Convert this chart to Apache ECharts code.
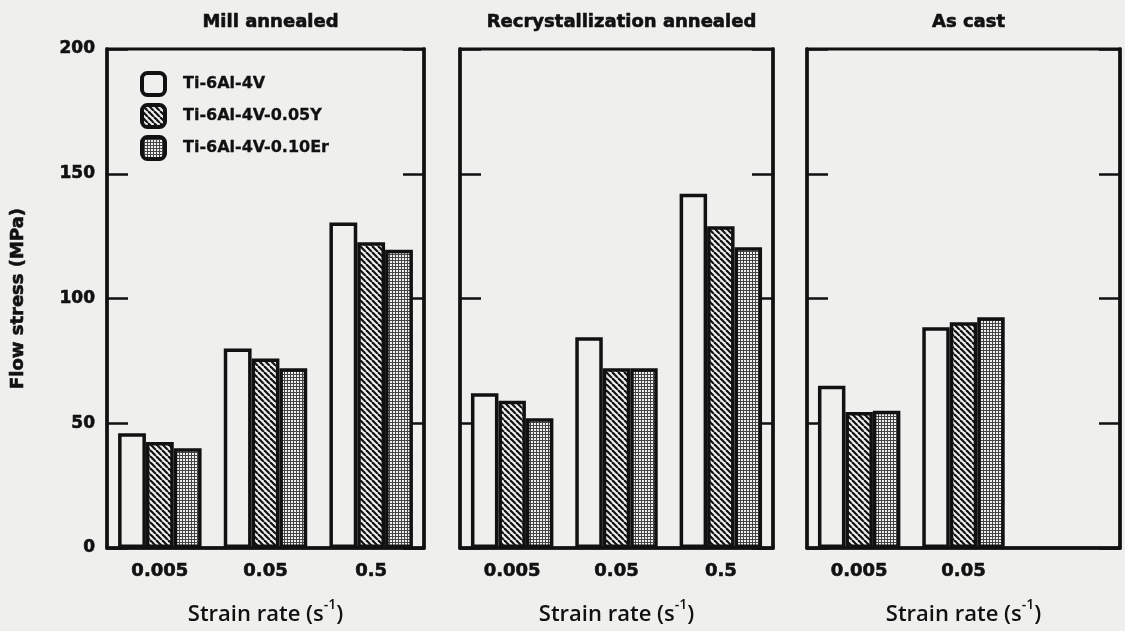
<!DOCTYPE html>
<html>
<head>
<meta charset="utf-8">
<script src="https://cdn.jsdelivr.net/npm/echarts@6/dist/echarts.min.js"></script>
<style>
  html, body { margin: 0; padding: 0; background: #efefed; }
  #grafico { width: 1125px; height: 631px; }
</style>
</head>
<body>
<div id="grafico"></div>
<script>
// Datos (MPa)
const tasas = ['0.005', '0.05', '0.5'];
const tasasColada = ['0.005', '0.05', ''];
const titulos = ['Mill annealed', 'Recrystallization annealed', 'As cast'];
const aleaciones = ['Ti-6Al-4V', 'Ti-6Al-4V-0.05Y', 'Ti-6Al-4V-0.10Er'];
const yTicks = [0, 50, 100, 150, 200];

const millBase = [46, 80, 130.5];
const millY = [42.5, 76, 122.5];
const millEr = [40, 72, 119.5];

const recristBase = [62, 84.5, 142];
const recristY = [59, 72, 129];
const recristEr = [52, 72, 120.5];

const coladaBase = [65, 88.5, null];
const coladaY = [54.5, 90.5, null];
const coladaEr = [55, 92.5, null];

const NEGRO = '#111';
const PAPEL = '#efefed';
const FUENTE = 'DejaVu Sans';

// texto en negrita algo más gruesa, como en el escaneo
function negrita(tam, borde = 0.6) {
    return {fontFamily: FUENTE, fontWeight: 'bold', fontSize: tam, color: NEGRO,
        textBorderColor: NEGRO, textBorderWidth: borde};
}

// patrones de relleno
function patronRayado() {
    const c = document.createElement('canvas');
    c.width = 6; c.height = 6;
    const ctx = c.getContext('2d');
    ctx.fillStyle = PAPEL;
    ctx.fillRect(0, 0, 6, 6);
    ctx.strokeStyle = NEGRO;
    ctx.lineWidth = 2.2;
    for (let k = -6; k <= 6; k += 6) {
        ctx.beginPath();
        ctx.moveTo(k, 0);
        ctx.lineTo(k + 6, 6);
        ctx.stroke();
    }
    return c;
}

function patronPuntos() {
    const c = document.createElement('canvas');
    c.width = 3; c.height = 3;
    const ctx = c.getContext('2d');
    ctx.fillStyle = PAPEL;
    ctx.fillRect(0, 0, 3, 3);
    ctx.fillStyle = '#444';
    ctx.fillRect(0, 2, 3, 1);
    ctx.fillRect(2, 0, 1, 3);
    return c;
}

const rellenos = [
    PAPEL,
    {image: patronRayado(), repeat: 'repeat'},
    {image: patronPuntos(), repeat: 'repeat'}
];

const paneles = [
    {left: 107, width: 317, cats: tasas, datos: [millBase, millY, millEr]},
    {left: 460, width: 313, cats: tasas, datos: [recristBase, recristY, recristEr]},
    {left: 807, width: 313, cats: tasasColada, datos: [coladaBase, coladaY, coladaEr]}
];

const chart = echarts.init(document.getElementById('grafico'));

const grids = [], xAxes = [], yAxes = [], series = [], titles = [];

paneles.forEach((p, i) => {
    grids.push({
        left: p.left, width: p.width, top: 49, height: 500,
        show: true, borderColor: NEGRO, borderWidth: 3, backgroundColor: 'transparent'
    });
    titles.push({
        text: titulos[i],
        left: p.left + p.width / 2,
        top: 8,
        textAlign: 'center',
        textStyle: negrita(18)
    });
    xAxes.push({
        type: 'category', gridIndex: i, data: p.cats,
        axisLine: {lineStyle: {color: NEGRO, width: 3.5}},
        axisTick: {show: false},
        axisLabel: Object.assign(negrita(18), {margin: 14}),
        name: '{a|Strain rate (s}{s|-1}{a|)}',
        nameLocation: 'middle',
        nameGap: 50,
        nameTextStyle: {
            rich: {
                a: {fontFamily: 'Open Sans', fontWeight: 600, fontSize: 22, color: NEGRO, lineHeight: 28, verticalAlign: 'bottom'},
                s: {fontFamily: 'Open Sans', fontWeight: 600, fontSize: 14, color: NEGRO, lineHeight: 28, verticalAlign: 'top'}
            }
        }
    });
    const ejeY = {
        type: 'value', gridIndex: i, min: 0, max: 200, interval: 50,
        axisLine: {show: true, lineStyle: {color: NEGRO, width: 3.5}},
        axisTick: {show: true, inside: true, length: 21, lineStyle: {color: NEGRO, width: 2.5}},
        splitLine: {show: false}
    };
    yAxes.push(Object.assign({}, ejeY, {
        position: 'left',
        axisLabel: Object.assign(negrita(17), {
            show: i === 0, margin: 12,
            formatter: v => yTicks.includes(v) ? String(v) : ''
        }),
        name: i === 0 ? 'Flow stress (MPa)' : '',
        nameLocation: 'middle',
        nameGap: 80,
        nameTextStyle: negrita(18)
    }));
    yAxes.push(Object.assign({}, ejeY, {position: 'right', axisLabel: {show: false}}));

    p.datos.forEach((valores, j) => {
        series.push({
            name: aleaciones[j],
            type: 'bar',
            xAxisIndex: i,
            yAxisIndex: i * 2,
            data: valores,
            barGap: '0%',
            barCategoryGap: '21%',
            itemStyle: {color: rellenos[j], borderColor: NEGRO, borderWidth: 3.5},
            emphasis: {disabled: true}
        });
    });
});

const option = {
    backgroundColor: PAPEL,
    animation: false,
    title: titles,
    legend: {
        data: aleaciones,
        orient: 'vertical',
        left: 135,
        top: 66,
        icon: 'roundRect',
        itemWidth: 23,
        itemHeight: 22,
        itemGap: 6,
        itemStyle: {borderColor: NEGRO, borderWidth: 4},
        textStyle: Object.assign(negrita(16, 0.3), {padding: [0, 0, 0, 13]})
    },
    grid: grids,
    xAxis: xAxes,
    yAxis: yAxes,
    series: series
};

chart.setOption(option);
window.addEventListener('resize', () => chart.resize());
</script>
</body>
</html>
